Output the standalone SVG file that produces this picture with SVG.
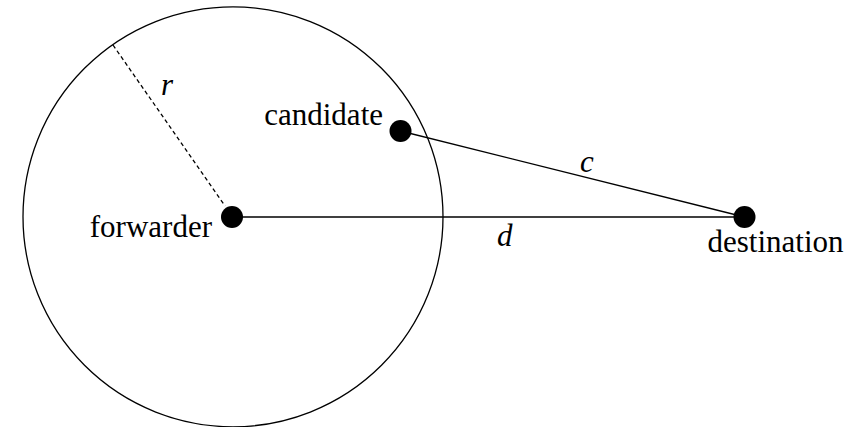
<svg xmlns="http://www.w3.org/2000/svg" width="861" height="427" viewBox="0 0 861 427">
<style>
.lbl{font-size:31px;fill:#000}
.var{font-size:31px;font-style:italic;fill:#000}
.ln{stroke:#000;stroke-width:1.3;fill:none}
.dot{fill:#000}
</style>
<rect width="861" height="427" fill="#fff"/>
<circle id="range" cx="233" cy="216.8" r="210" class="ln"/>
<g id="connectors">
<line x1="113" y1="45" x2="225" y2="206" class="ln" stroke-dasharray="4,3"/>
<line x1="232" y1="217" x2="744.5" y2="217" class="ln"/>
<line x1="400.5" y1="131" x2="744.5" y2="217" class="ln"/>
</g>
<g id="labels">
<text x="161" y="95" class="var" style="font-family:'Liberation Serif',serif">r</text>
<text x="580" y="172" class="var" style="font-family:'Liberation Serif',serif">c</text>
<text x="497" y="246" class="var" style="font-family:'Liberation Serif',serif">d</text>
</g>
<g id="forwarder">
<circle cx="232" cy="217" r="11" class="dot"/>
<text x="212" y="237" class="lbl" text-anchor="end" style="font-family:'Liberation Serif',serif">forwarder</text>
</g>
<g id="candidate">
<circle cx="400.5" cy="131" r="11" class="dot"/>
<text x="383" y="125" class="lbl" text-anchor="end" style="font-family:'Liberation Serif',serif">candidate</text>
</g>
<g id="destination">
<circle cx="744.5" cy="217" r="11" class="dot"/>
<text x="775.5" y="252" class="lbl" text-anchor="middle" style="font-family:'Liberation Serif',serif">destination</text>
</g>
</svg>
